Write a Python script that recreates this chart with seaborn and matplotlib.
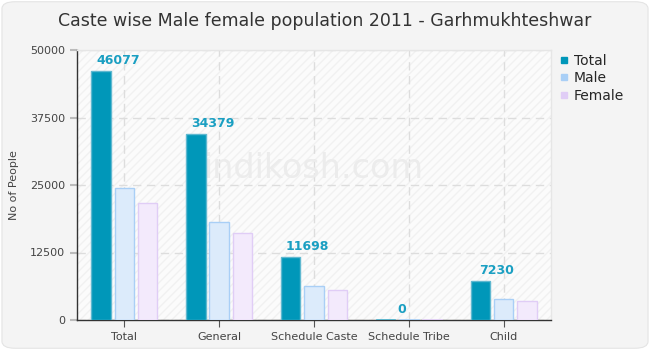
import matplotlib
matplotlib.use("Agg")
import matplotlib.pyplot as plt
from matplotlib.patches import Rectangle, FancyBboxPatch
from matplotlib.lines import Line2D
import seaborn as sns
import pandas as pd

# Population by caste group, Garhmukhteshwar (Census 2011)
categories = ["Total", "General", "Schedule Caste", "Schedule Tribe", "Child"]
total = [46077, 34379, 11698, 0, 7230]
male = [24420, 18208, 6220, 0, 3800]
female = [21657, 16171, 5478, 0, 3430]
series = ["Total", "Male", "Female"]
yticks = [0, 12500, 25000, 37500, 50000]

df = pd.DataFrame({
    "category": categories * 3,
    "series": ["Total"] * 5 + ["Male"] * 5 + ["Female"] * 5,
    "value": total + male + female,
})

fills = {"Total": "#0097b9", "Male": "#dcebfb", "Female": "#f3eafc"}
edges = {"Total": "#5fb8d0", "Male": "#a9cff6", "Female": "#e0cdf6"}

sns.set_theme(style="white")
plt.rcParams["font.family"] = ["DejaVu Sans"]

fig = plt.figure(figsize=(6.5, 3.5), dpi=100)
fig.patch.set_facecolor("white")
fig.patches.append(FancyBboxPatch((0.003, 0.005), 0.994, 0.99, boxstyle="round,pad=0,rounding_size=0.02",
                                  transform=fig.transFigure, facecolor="#f4f4f4", edgecolor="#e4e4e4",
                                  linewidth=0.8, zorder=-10))

ax = fig.add_axes([77 / 650, 30 / 350, 474 / 650, 270 / 350])
ax.set_facecolor("#fbfbfb")
ax.add_patch(Rectangle((0, 0), 1, 1, transform=ax.transAxes, facecolor="none",
                       edgecolor="#f1f1f1", hatch="////", linewidth=0, zorder=0))

sns.barplot(data=df, x="category", y="value", hue="series", hue_order=series,
            order=categories, width=0.74, gap=0.17, dodge=True, ax=ax,
            legend=False, zorder=3, errorbar=None)

n = len(categories)
bars = [p for p in ax.patches if isinstance(p, Rectangle) and p.get_width() < 1]
for i, s in enumerate(series):
    for p in bars[i * n:(i + 1) * n]:
        p.set_facecolor(fills[s])
        p.set_edgecolor(edges[s])
        p.set_linewidth(1.0)
        if p.get_height() == 0:
            # keep empty groups visible as a thin sliver
            p.set_height(250)
            p.set_linewidth(0.6)

ax.set_ylim(0, 50000)
ax.set_xlim(-0.5, n - 0.5)
ax.set_yticks(yticks)
ax.set_yticklabels([str(v) for v in yticks], fontsize=8, color="#444444")
ax.tick_params(axis="x", labelsize=8, labelcolor="#444444", length=5, color="#555555", width=0.8, direction="out", bottom=True)
ax.tick_params(axis="y", length=5, color="#bbbbbb", width=1.5, direction="out", left=True)
ax.grid(True, axis="both", color="#dddddd", linestyle=(0, (6, 4)), linewidth=1.0)
ax.set_axisbelow(True)
ax.set_xlabel("")
ax.set_ylabel("No of People", fontsize=8, color="#444444", labelpad=8)

for side in ["top", "right"]:
    ax.spines[side].set_color("#e6e6e6")
    ax.spines[side].set_linewidth(1.0)
for side in ["left", "bottom"]:
    ax.spines[side].set_color("#333333")
    ax.spines[side].set_linewidth(1.0)

# Value labels for the Total series
for i, v in enumerate(total):
    ax.annotate(str(v), xy=(i - 0.07, v), xytext=(0, 3), textcoords="offset points",
                ha="center", va="bottom", fontsize=9, fontweight="bold", color="#1a9fc2", zorder=5)

# Watermark
ax.text(0.5, 0.56, "indikosh.com", transform=ax.transAxes, ha="center", va="center",
        fontsize=24, color="#ececec", zorder=1)

fig.text(0.5, 0.94, "Caste wise Male female population 2011 - Garhmukhteshwar",
         ha="center", va="center", fontsize=12.5, color="#333333")

handles = [Line2D([0], [0], marker="s", linestyle="none", markersize=4.5,
                  markerfacecolor=c, markeredgecolor=c)
           for c in ["#0097b9", "#a9cff6", "#e0cdf6"]]
fig.legend(handles, series, loc="upper left", bbox_to_anchor=(553 / 650, 1 - 48 / 350),
           frameon=False, fontsize=10, handletextpad=0.3, labelspacing=0.25,
           handlelength=0.8, borderaxespad=0)

fig.savefig("out.png", dpi=100, facecolor=fig.get_facecolor())
